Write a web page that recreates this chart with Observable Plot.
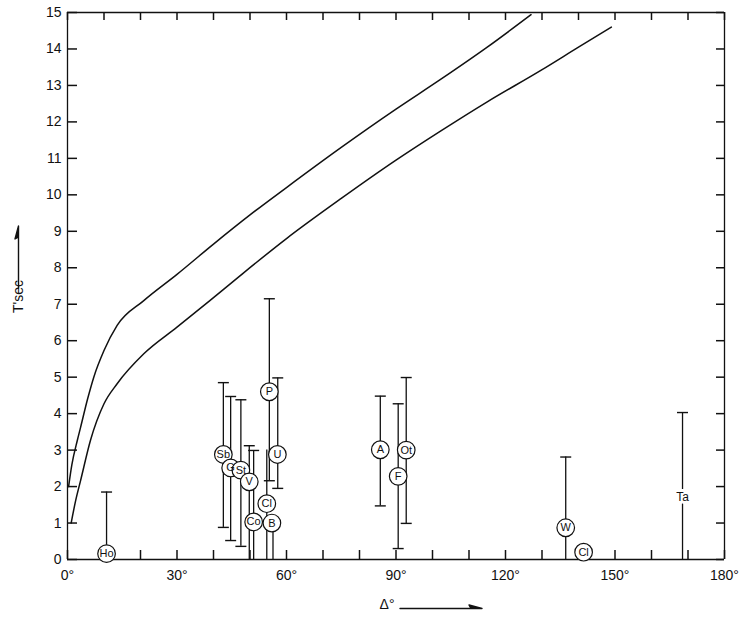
<!DOCTYPE html>
<html><head><meta charset="utf-8">
<script src="https://cdn.jsdelivr.net/npm/d3@7"></script>
<script src="https://cdn.jsdelivr.net/npm/@observablehq/plot@0.6"></script>
<style>body{margin:0;background:#fff} svg{display:block}</style>
</head><body><div id="chart"></div>
<script>
// travel-time style curves (Δ in degrees, T in seconds)
const upperDelta = [0.3, 1.2, 2.7, 3.6, 5.5, 7.2, 10, 13.6, 20.9, 30, 40, 50, 60, 75, 90, 102, 115, 127];
const upperT     = [2.0, 2.6, 3.27, 3.63, 4.4, 5.0, 5.73, 6.42, 7.1, 7.82, 8.65, 9.45, 10.2, 11.3, 12.35, 13.15, 14.05, 14.94];
const lowerDelta = [1.0, 2.2, 3.6, 6.3, 10, 13.6, 20.9, 30, 39, 47.5, 60, 75, 90, 102.4, 115, 129.8, 140, 149];
const lowerT     = [1.0, 1.6, 2.17, 3.27, 4.27, 4.82, 5.64, 6.37, 7.1, 7.8, 8.8, 9.9, 10.95, 11.76, 12.55, 13.42, 14.05, 14.6];

// stations: circled labels
const stationNames = ["Ho", "Sb", "G", "St", "V", "Co", "Cl", "P", "B", "U", "A", "F", "Ot", "W", "Cl"];
const stationDelta = [10.7, 42.7, 44.7, 47.5, 49.8, 51.0, 54.6, 55.3, 56.0, 57.5, 85.7, 90.6, 92.8, 136.5, 141.4];
const stationT     = [0.16, 2.88, 2.51, 2.45, 2.13, 1.03, 1.53, 4.6, 1.0, 2.88, 3.01, 2.28, 3.0, 0.87, 0.2];

// error bars
const barDelta = [10.7, 42.7, 44.7, 47.5, 49.8, 51.0, 54.6, 55.3, 56.3, 57.6, 85.7, 90.6, 92.8, 136.5, 168.5];
const barLow   = [0, 0.88, 0.52, 0.36, 0, 0, 0, 2.16, 0, 1.95, 1.47, 0.3, 0.99, 0, 0];
const barHigh  = [1.85, 4.85, 4.47, 4.38, 3.12, 2.99, 3.0, 7.15, 1.0, 4.98, 4.48, 4.27, 4.99, 2.81, 4.03];
const capTop    = [true, true, true, true, true, true, false, true, false, true, true, true, true, true, true];
const capBottom = [false, true, true, true, false, false, false, true, false, true, true, true, true, false, false];

// plain text label (no circle)
const plainNames = ["Ta"];
const plainDelta = [168.5];
const plainT = [1.72];

const xTicks = d3.range(0, 181, 10);
const xLabelTicks = [0, 30, 60, 90, 120, 150, 180];
const yTicks = d3.range(0, 16, 1);

const upper = upperDelta.map((d, i) => ({d, t: upperT[i]}));
const lower = lowerDelta.map((d, i) => ({d, t: lowerT[i]}));
const stations = stationNames.map((n, i) => ({n, d: stationDelta[i], t: stationT[i]}));
const bars = barDelta.map((d, i) => ({d, lo: barLow[i], hi: barHigh[i], ct: capTop[i], cb: capBottom[i]}));
const plain = plainNames.map((n, i) => ({n, d: plainDelta[i], t: plainT[i]}));

const capSymbol = {draw(ctx) { ctx.moveTo(-5.5, 0); ctx.lineTo(5.5, 0); }};
const harpoon = {draw(ctx, l) { ctx.moveTo(0, 0); ctx.lineTo(0, -l); ctx.lineTo(-3.5, -l + 13); ctx.lineTo(0, -l + 11); ctx.closePath(); }};

const font = "'Liberation Sans', Arial, sans-serif";
const ink = "#111";

const chart = Plot.plot({
  width: 746, height: 628,
  marginLeft: 67, marginRight: 22, marginTop: 12, marginBottom: 69,
  style: {fontFamily: font, background: "#fff", color: ink},
  x: {domain: [0, 180]},
  y: {domain: [0, 15]},
  marks: [
    Plot.axisX({ticks: xLabelTicks, tickSize: 0, tickPadding: 11, tickFormat: d => d + "°", fontSize: 14, label: null}),
    Plot.axisY({ticks: yTicks, tickSize: 0, tickPadding: 6, fontSize: 14, label: null}),
    // inward ticks on all four sides (zero-length rules extended inward by negative insets)
    Plot.ruleX(xTicks, {x: d => d, y1: 0, y2: 0, insetTop: -9, strokeWidth: 1.5, stroke: ink}),
    Plot.ruleX(xTicks, {x: d => d, y1: 15, y2: 15, insetBottom: -8, strokeWidth: 1.5, stroke: ink}),
    Plot.ruleY(yTicks, {y: d => d, x1: 0, x2: 0, insetRight: -10, strokeWidth: 1.5, stroke: ink}),
    Plot.ruleY(yTicks, {y: d => d, x1: 180, x2: 180, insetLeft: -8, strokeWidth: 1.5, stroke: ink}),
    Plot.ruleX([0], {strokeWidth: 1.3, stroke: ink}),
    Plot.ruleY([0], {strokeWidth: 1.3, stroke: ink}),
    Plot.ruleX([180], {strokeWidth: 1.3, stroke: ink}),
    Plot.ruleY([15], {strokeWidth: 1.3, stroke: ink}),
    Plot.line(upper, {x: "d", y: "t", curve: "monotone-x", strokeWidth: 1.5, stroke: ink}),
    Plot.line(lower, {x: "d", y: "t", curve: "monotone-x", strokeWidth: 1.5, stroke: ink}),
    Plot.ruleX(bars, {x: "d", y1: "lo", y2: "hi", strokeWidth: 1.3, stroke: ink}),
    Plot.dot(bars.filter(b => b.ct), {x: "d", y: "hi", symbol: capSymbol, fill: "none", stroke: ink, strokeWidth: 1.4}),
    Plot.dot(bars.filter(b => b.cb), {x: "d", y: "lo", symbol: capSymbol, fill: "none", stroke: ink, strokeWidth: 1.4}),
    Plot.dot(stations, {x: "d", y: "t", r: 8.8, fill: "white", stroke: ink, strokeWidth: 1.2}),
    Plot.text(stations, {x: "d", y: "t", text: "n", fontSize: 11, fill: ink}),
    Plot.text(plain, {x: "d", y: "t", text: "n", fontSize: 12, fill: ink, stroke: "white", strokeWidth: 6}),
    Plot.text(["T'sec"], {frameAnchor: "left", dx: -49, dy: 27, rotate: -90, fontSize: 14, fill: ink}),
    Plot.vector([0], {frameAnchor: "left", dx: -49, dy: 2, length: 62, rotate: 0, anchor: "start", shape: harpoon, fill: ink, strokeWidth: 1.4, stroke: ink}),
    Plot.text(["Δ°"], {frameAnchor: "bottom", dx: -9, dy: 49, fontSize: 14, fill: ink}),
    Plot.vector([0], {frameAnchor: "bottom", dx: 4, dy: 49, length: 82, rotate: 90, anchor: "start", shape: harpoon, fill: ink, strokeWidth: 1.4, stroke: ink})
  ]
});
document.getElementById("chart").appendChild(chart);
</script>
</body></html>
